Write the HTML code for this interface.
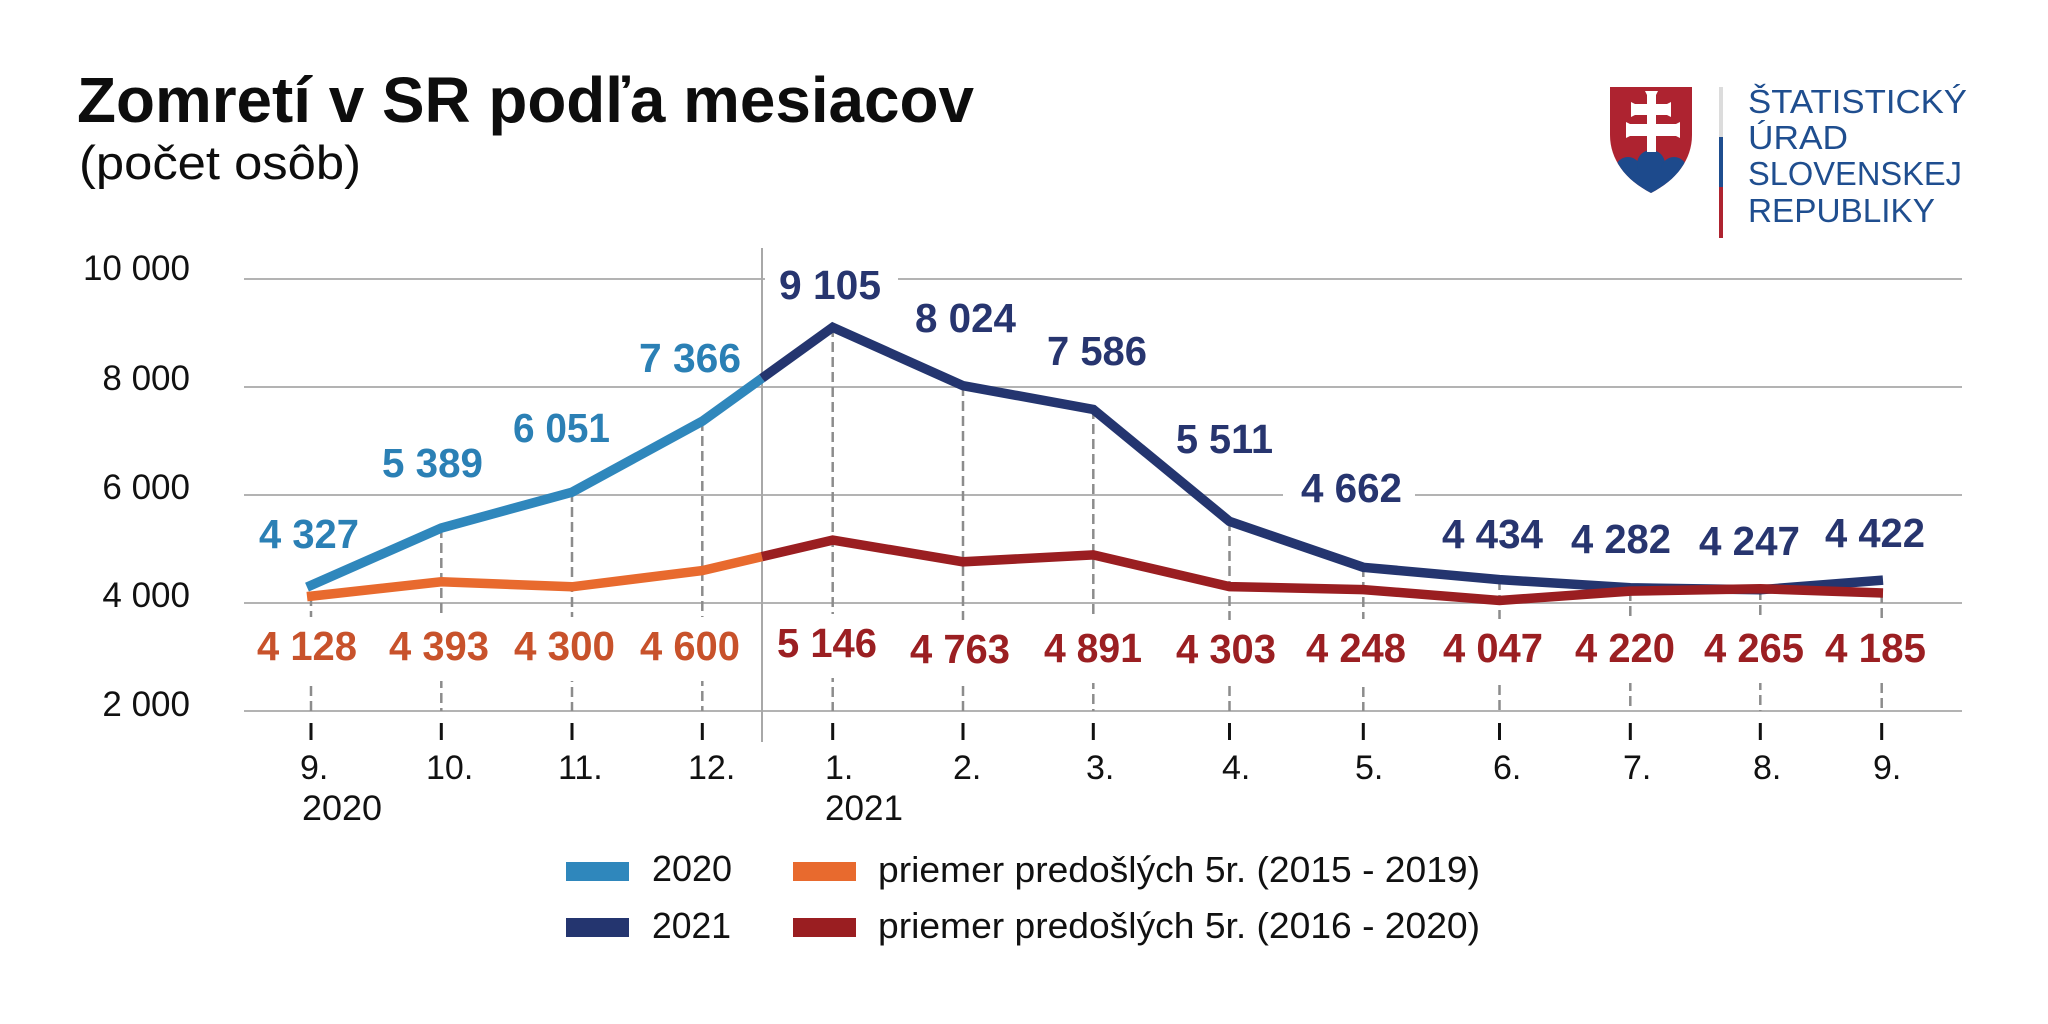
<!DOCTYPE html>
<html><head><meta charset="utf-8"><style>
html,body{margin:0;padding:0;background:#fff;}
svg{display:block;}
text{font-family:"Liberation Sans",Arial,sans-serif;}
</style></head><body>
<svg width="2048" height="1024" viewBox="0 0 2048 1024" xmlns="http://www.w3.org/2000/svg">
<rect width="2048" height="1024" fill="#fff"/>
<!-- Title -->
<text x="77" y="122" font-size="64" font-weight="bold" fill="#0d0d0d" textLength="897" lengthAdjust="spacingAndGlyphs">Zomretí v SR podľa mesiacov</text>
<text x="79" y="179" font-size="47" fill="#0d0d0d" textLength="282" lengthAdjust="spacingAndGlyphs">(počet osôb)</text>

<!-- Logo -->
<defs><clipPath id="sh"><path d="M1610,87 H1692 V135 C1692,160 1676,180 1651,193 C1626,180 1610,160 1610,135 Z"/></clipPath></defs>
<path d="M1610,87 H1692 V135 C1692,160 1676,180 1651,193 C1626,180 1610,160 1610,135 Z" fill="#ae2330"/>
<g clip-path="url(#sh)" fill="#1d4a8c">
<circle cx="1628" cy="170" r="13"/><circle cx="1651" cy="164" r="14"/><circle cx="1674" cy="170" r="13"/>
<rect x="1600" y="170" width="100" height="40"/>
</g>
<g fill="#fff">
<path d="M1645,91 H1658 L1656,95 V104 L1667,104 L1671,102 V117 L1667,115 H1656 V124 L1676,124 L1680,122 V138 L1676,136 H1656 V152 H1647 V136 H1630 L1626,138 V122 L1630,124 H1647 V115 H1635 L1631,117 V102 L1635,104 H1647 V95 Z"/>
</g>
<rect x="1719" y="87" width="4" height="50" fill="#dcdcdc"/>
<rect x="1719" y="137" width="4" height="50" fill="#1f4e8f"/>
<rect x="1719" y="187" width="4" height="51" fill="#ae2330"/>
<g fill="#1f4e8f" font-size="33">
<text x="1748" y="113" textLength="219" lengthAdjust="spacingAndGlyphs">ŠTATISTICKÝ</text>
<text x="1748" y="149" textLength="100" lengthAdjust="spacingAndGlyphs">ÚRAD</text>
<text x="1748" y="185" textLength="214" lengthAdjust="spacingAndGlyphs">SLOVENSKEJ</text>
<text x="1748" y="222" textLength="187" lengthAdjust="spacingAndGlyphs">REPUBLIKY</text>
</g>

<!-- Gridlines -->
<g stroke="#b3b3b3" stroke-width="2">
<line x1="244" y1="279" x2="1962" y2="279"/>
<line x1="244" y1="387" x2="1962" y2="387"/>
<line x1="244" y1="495" x2="1962" y2="495"/>
<line x1="244" y1="603" x2="1962" y2="603"/>
<line x1="244" y1="711" x2="1962" y2="711"/>
</g>
<line x1="762" y1="248" x2="762" y2="742" stroke="#a8a8a8" stroke-width="2"/>

<!-- Y labels -->
<g font-size="35" fill="#111" text-anchor="end">
<text x="190" y="280">10 000</text>
<text x="190" y="390">8 000</text>
<text x="190" y="499">6 000</text>
<text x="190" y="607">4 000</text>
<text x="190" y="716">2 000</text>
</g>

<!-- Dashed verticals -->
<g stroke="#8c8c8c" stroke-width="2.5" stroke-dasharray="10 5">
<line x1="311" y1="596" x2="311" y2="711"/>
<line x1="441.3" y1="528" x2="441.3" y2="711"/>
<line x1="572" y1="492" x2="572" y2="711"/>
<line x1="702.3" y1="421" x2="702.3" y2="711"/>
<line x1="832.7" y1="327" x2="832.7" y2="711"/>
<line x1="963" y1="386" x2="963" y2="711"/>
<line x1="1093.3" y1="409" x2="1093.3" y2="711"/>
<line x1="1229.5" y1="521" x2="1229.5" y2="711"/>
<line x1="1363.3" y1="567" x2="1363.3" y2="711"/>
<line x1="1499.5" y1="580" x2="1499.5" y2="711"/>
<line x1="1630.3" y1="591" x2="1630.3" y2="711"/>
<line x1="1760.3" y1="590" x2="1760.3" y2="711"/>
<line x1="1881.7" y1="593" x2="1881.7" y2="711"/>
</g>
<!-- Ticks -->
<g stroke="#111" stroke-width="3">
<line x1="311" y1="723" x2="311" y2="740"/>
<line x1="441.3" y1="723" x2="441.3" y2="740"/>
<line x1="572" y1="723" x2="572" y2="740"/>
<line x1="702.3" y1="723" x2="702.3" y2="740"/>
<line x1="832.7" y1="723" x2="832.7" y2="740"/>
<line x1="963" y1="723" x2="963" y2="740"/>
<line x1="1093.3" y1="723" x2="1093.3" y2="740"/>
<line x1="1229.5" y1="723" x2="1229.5" y2="740"/>
<line x1="1363.3" y1="723" x2="1363.3" y2="740"/>
<line x1="1499.5" y1="723" x2="1499.5" y2="740"/>
<line x1="1630.3" y1="723" x2="1630.3" y2="740"/>
<line x1="1760.3" y1="723" x2="1760.3" y2="740"/>
<line x1="1881.7" y1="723" x2="1881.7" y2="740"/>
</g>

<!-- Label background boxes -->
<g fill="#fff">
<rect x="765" y="262" width="133" height="45"/>
<rect x="1283" y="464" width="132" height="45"/>
<rect x="243" y="617" width="130" height="64"/>
<rect x="375" y="617" width="128" height="64"/>
<rect x="500" y="617" width="129" height="64"/>
<rect x="626" y="617" width="128" height="64"/>
<rect x="763" y="614" width="128" height="64"/>
<rect x="896" y="620" width="128" height="64"/>
<rect x="1030" y="619" width="126" height="64"/>
<rect x="1162" y="620" width="128" height="64"/>
<rect x="1292" y="619" width="128" height="64"/>
<rect x="1429" y="619" width="128" height="64"/>
<rect x="1561" y="619" width="128" height="64"/>
<rect x="1690" y="619" width="128" height="64"/>
<rect x="1811" y="619" width="129" height="64"/>
</g>

<!-- Series -->
<g fill="none" stroke-width="9.5" stroke-linejoin="miter">
<polyline stroke="#2f87bc" points="307,587.1 441.3,528 572,492.2 702.3,421.2 762,378.2"/>
<polyline stroke="#24356f" points="762,378.2 832.7,327.3 963,385.7 1093.3,409.4 1229.5,521.4 1363.3,567.3 1499.5,579.6 1630.3,587.8 1760.3,589.7 1883,580.1"/>
<polyline stroke="#e86a2e" points="307,596.6 441.3,581.8 572,586.8 702.3,570.6 762,556.6"/>
<polyline stroke="#9a1e21" points="762,556.6 832.7,540.1 963,561.8 1093.3,554.9 1229.5,586.6 1363.3,589.6 1499.5,600.5 1630.3,591.1 1760.3,588.7 1883,593"/>
</g>

<!-- Data labels -->
<g font-size="41" font-weight="bold">
<g fill="#2b80b5">
<text x="259" y="548" textLength="100" lengthAdjust="spacingAndGlyphs">4 327</text>
<text x="382" y="477" textLength="101" lengthAdjust="spacingAndGlyphs">5 389</text>
<text x="513" y="442" textLength="97" lengthAdjust="spacingAndGlyphs">6 051</text>
<text x="639" y="372" textLength="102" lengthAdjust="spacingAndGlyphs">7 366</text>
</g>
<g fill="#27356f">
<text x="779" y="299" textLength="102" lengthAdjust="spacingAndGlyphs">9 105</text>
<text x="915" y="332" textLength="101" lengthAdjust="spacingAndGlyphs">8 024</text>
<text x="1047" y="365" textLength="100" lengthAdjust="spacingAndGlyphs">7 586</text>
<text x="1176" y="453" textLength="97" lengthAdjust="spacingAndGlyphs">5 511</text>
<text x="1301" y="502" textLength="101" lengthAdjust="spacingAndGlyphs">4 662</text>
<text x="1442" y="548" textLength="101" lengthAdjust="spacingAndGlyphs">4 434</text>
<text x="1571" y="553" textLength="100" lengthAdjust="spacingAndGlyphs">4 282</text>
<text x="1699" y="555" textLength="101" lengthAdjust="spacingAndGlyphs">4 247</text>
<text x="1825" y="547" textLength="100" lengthAdjust="spacingAndGlyphs">4 422</text>
</g>
<g fill="#c8522b">
<text x="257" y="660" textLength="100" lengthAdjust="spacingAndGlyphs">4 128</text>
<text x="389" y="660" textLength="100" lengthAdjust="spacingAndGlyphs">4 393</text>
<text x="514" y="660" textLength="101" lengthAdjust="spacingAndGlyphs">4 300</text>
<text x="640" y="660" textLength="100" lengthAdjust="spacingAndGlyphs">4 600</text>
</g>
<g fill="#9b1f22">
<text x="777" y="657" textLength="100" lengthAdjust="spacingAndGlyphs">5 146</text>
<text x="910" y="663" textLength="100" lengthAdjust="spacingAndGlyphs">4 763</text>
<text x="1044" y="662" textLength="98" lengthAdjust="spacingAndGlyphs">4 891</text>
<text x="1176" y="663" textLength="100" lengthAdjust="spacingAndGlyphs">4 303</text>
<text x="1306" y="662" textLength="100" lengthAdjust="spacingAndGlyphs">4 248</text>
<text x="1443" y="662" textLength="100" lengthAdjust="spacingAndGlyphs">4 047</text>
<text x="1575" y="662" textLength="100" lengthAdjust="spacingAndGlyphs">4 220</text>
<text x="1704" y="662" textLength="100" lengthAdjust="spacingAndGlyphs">4 265</text>
<text x="1825" y="662" textLength="101" lengthAdjust="spacingAndGlyphs">4 185</text>
</g>
</g>

<!-- X labels -->
<g font-size="34" fill="#111">
<text x="300" y="779">9.</text>
<text x="426" y="779">10.</text>
<text x="558" y="779">11.</text>
<text x="688" y="779">12.</text>
<text x="825" y="779">1.</text>
<text x="953" y="779">2.</text>
<text x="1086" y="779">3.</text>
<text x="1222" y="779">4.</text>
<text x="1355" y="779">5.</text>
<text x="1493" y="779">6.</text>
<text x="1623" y="779">7.</text>
<text x="1753" y="779">8.</text>
<text x="1873" y="779">9.</text>
<text x="302" y="820" font-size="35" textLength="80" lengthAdjust="spacingAndGlyphs">2020</text>
<text x="825" y="820" font-size="35" textLength="78" lengthAdjust="spacingAndGlyphs">2021</text>
</g>

<!-- Legend -->
<rect x="566" y="862" width="63" height="19" fill="#2f87bc"/>
<rect x="566" y="918" width="63" height="19" fill="#24356f"/>
<rect x="793" y="862" width="63" height="19" fill="#e86a2e"/>
<rect x="793" y="918" width="63" height="19" fill="#9a1e21"/>
<g font-size="36" fill="#111">
<text x="652" y="881" textLength="80" lengthAdjust="spacingAndGlyphs">2020</text>
<text x="652" y="938" textLength="79" lengthAdjust="spacingAndGlyphs">2021</text>
<text x="878" y="882" textLength="602" lengthAdjust="spacingAndGlyphs">priemer predošlých 5r. (2015 - 2019)</text>
<text x="878" y="938" textLength="602" lengthAdjust="spacingAndGlyphs">priemer predošlých 5r. (2016 - 2020)</text>
</g>
</svg>
</body></html>
